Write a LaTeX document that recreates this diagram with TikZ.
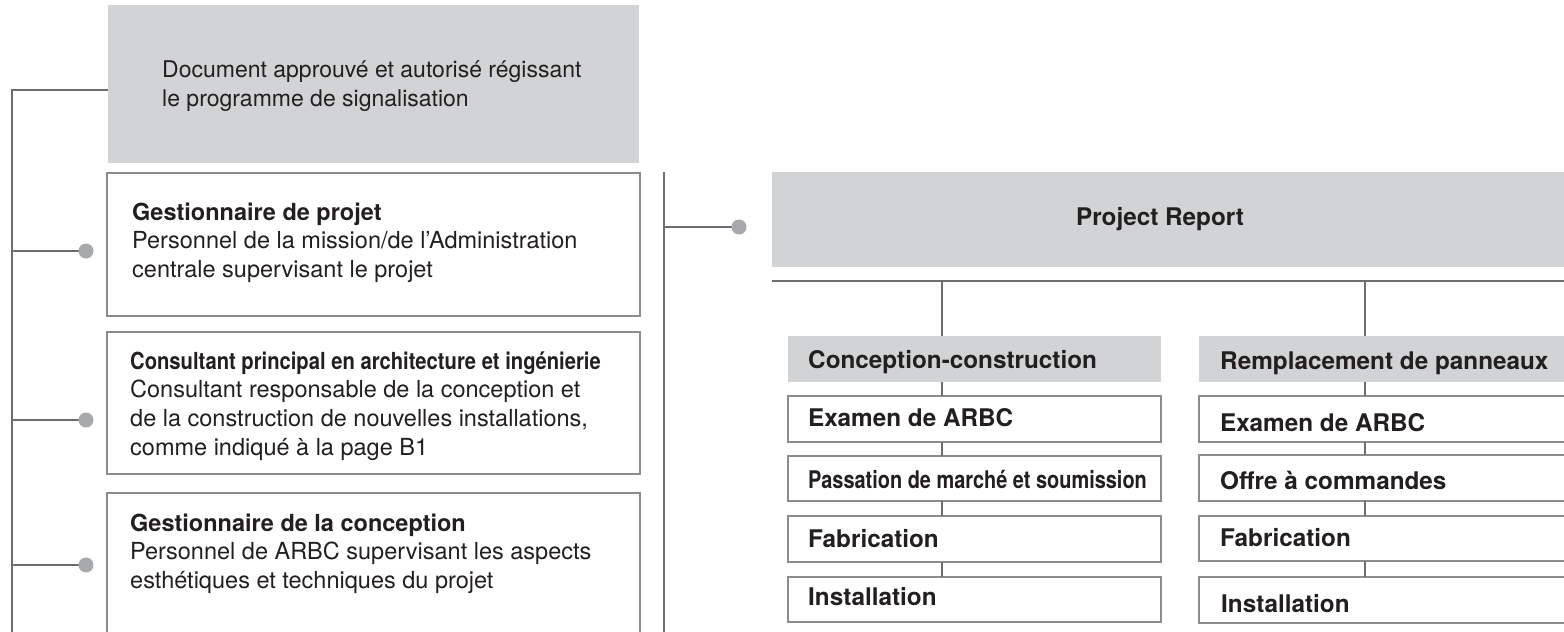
\documentclass[tikz,border=0pt]{standalone}
\usepackage{fontspec}
\setmainfont{TeX Gyre Heros}
\newfontfamily\condA[FakeStretch=0.86]{TeX Gyre Heros}
\newfontfamily\condB[FakeStretch=0.82]{TeX Gyre Heros}
\definecolor{boxgray}{HTML}{D1D3D4}
\definecolor{linegray}{HTML}{6D6E71}
\definecolor{framegray}{HTML}{8A8C8E}
\definecolor{dotgray}{HTML}{A7A9AC}
\definecolor{textblack}{HTML}{231F20}
\newcommand{\blk}[1]{\parbox[t]{700pt}{\raggedright\fontsize{23.5}{28.8}\selectfont #1}}
\begin{document}
\begin{tikzpicture}[x=1pt,y=-1pt,
  graybox/.style={fill=boxgray, draw=none, inner sep=0pt, outer sep=0pt, anchor=north west},
  framebox/.style={draw=framegray, line width=1.3pt, fill=white, inner sep=0pt, outer sep=0pt, anchor=north west},
  spine/.style={draw=linegray, line width=2pt},
  link/.style={draw=linegray, line width=1.4pt},
  dotnode/.style={circle, fill=dotgray, minimum size=15pt, inner sep=0pt, outer sep=0pt},
  txt/.style={anchor=base west, inner sep=0pt, text=textblack},
  steptxt/.style={anchor=base west, inner sep=0pt, text=textblack, font=\fontsize{24.3}{29}\selectfont\bfseries},
]
\useasboundingbox (0,0) rectangle (1564,632);
\clip (0,0) rectangle (1564,632);

% ---- left column boxes
\node[graybox, minimum width=531pt, minimum height=158pt] (g0) at (108,5) {};
\node[framebox, minimum width=533pt, minimum height=143pt] (b1) at (107,173) {};
\node[framebox, minimum width=533pt, minimum height=142pt] (b2) at (107,332) {};
\node[framebox, minimum width=533pt, minimum height=170pt] (b3) at (107,493) {};

\node[txt] (t0) at (162,77) {\parbox[t]{700pt}{\raggedright\fontsize{23}{29}\selectfont Document approuvé et autorisé régissant\\le programme de signalisation}};
\node[txt] (t1) at (132,220) {\blk{{\bfseries Gestionnaire de projet}\\Personnel de la mission/de l’Administration\\centrale supervisant le projet}};
\node[txt] (t2) at (130,369) {\blk{{\condA\bfseries Consultant principal en architecture et ingénierie}\\Consultant responsable de la conception et\\de la construction de nouvelles installations,\\comme indiqué à la page B1}};
\node[txt] (t3) at (130,531) {\blk{{\bfseries Gestionnaire de la conception}\\Personnel de ARBC supervisant les aspects\\esthétiques et techniques du projet}};

% ---- left spine
\coordinate (Ltop) at (11.5,90);
\coordinate (Lbot) at (11.5,632);
\coordinate (p1) at (86,251);
\coordinate (p2) at (86,420);
\coordinate (p3) at (86,565);
\draw[spine] (g0.west |- Ltop) -- (Ltop) -- (Lbot);
\draw[spine] (p1) -- (p1 -| Ltop);
\draw[spine] (p2) -- (p2 -| Ltop);
\draw[spine] (p3) -- (p3 -| Ltop);
\node[dotnode] (d1) at (p1) {};
\node[dotnode] (d2) at (p2) {};
\node[dotnode] (d3) at (p3) {};

% ---- middle spine
\coordinate (Mtop) at (664,172);
\coordinate (Mbot) at (664,632);
\coordinate (p4) at (739,227);
\draw[spine] (Mtop) -- (Mbot);
\draw[spine] (p4) -- (p4 -| Mtop);
\node[dotnode] (d4) at (p4) {};

% ---- project report
\node[graybox, minimum width=800pt, minimum height=95pt] (pr) at (772,172) {};
\node[anchor=base, inner sep=0pt, text=textblack, font=\fontsize{24.3}{29}\selectfont\bfseries] (prt) at (1160,225) {Project Report};
\coordinate (Hl) at (772,281);
\coordinate (Hr) at (1570,281);
\draw[spine] (Hl) -- (Hr);

% ---- column A
\coordinate (xa) at (942,0);
\node[graybox, minimum width=373pt, minimum height=46pt] (ha) at (788,336) {};
\node[framebox, minimum width=373pt, minimum height=46pt] (a1) at (788,396) {};
\node[framebox, minimum width=373pt, minimum height=45pt] (a2) at (788,456) {};
\node[framebox, minimum width=373pt, minimum height=46pt] (a3) at (788,516) {};
\node[framebox, minimum width=373pt, minimum height=45pt] (a4) at (788,577) {};
\node[steptxt] (hat) at (808,368) {Conception-construction};
\node[steptxt] (a1t) at (808,426) {Examen de ARBC};
\node[steptxt] (a2t) at (808,488) {\condB Passation de marché et soumission};
\node[steptxt] (a3t) at (808,547) {Fabrication};
\node[steptxt] (a4t) at (808,605) {Installation};
\draw[link] (Hl -| xa) -- (ha.north -| xa);
\draw[link] (ha.south -| xa) -- (a1.north -| xa);
\draw[link] (a1.south -| xa) -- (a2.north -| xa);
\draw[link] (a2.south -| xa) -- (a3.north -| xa);
\draw[link] (a3.south -| xa) -- (a4.north -| xa);

% ---- column B
\coordinate (xb) at (1365,0);
\node[graybox, minimum width=400pt, minimum height=46pt] (hb) at (1199,336) {};
\node[framebox, minimum width=400pt, minimum height=46pt] (c1) at (1199,396) {};
\node[framebox, minimum width=400pt, minimum height=46pt] (c2) at (1199,455) {};
\node[framebox, minimum width=400pt, minimum height=45pt] (c3) at (1199,516) {};
\node[framebox, minimum width=400pt, minimum height=46pt] (c4) at (1199,577) {};
\node[steptxt] (hbt) at (1220,369) {Remplacement de panneaux};
\node[steptxt] (c1t) at (1220,431) {Examen de ARBC};
\node[steptxt] (c2t) at (1220,489) {Offre à commandes};
\node[steptxt] (c3t) at (1220,546) {Fabrication};
\node[steptxt] (c4t) at (1221,612) {Installation};
\draw[link] (Hl -| xb) -- (hb.north -| xb);
\draw[link] (hb.south -| xb) -- (c1.north -| xb);
\draw[link] (c1.south -| xb) -- (c2.north -| xb);
\draw[link] (c2.south -| xb) -- (c3.north -| xb);
\draw[link] (c3.south -| xb) -- (c4.north -| xb);
\end{tikzpicture}
\end{document}
